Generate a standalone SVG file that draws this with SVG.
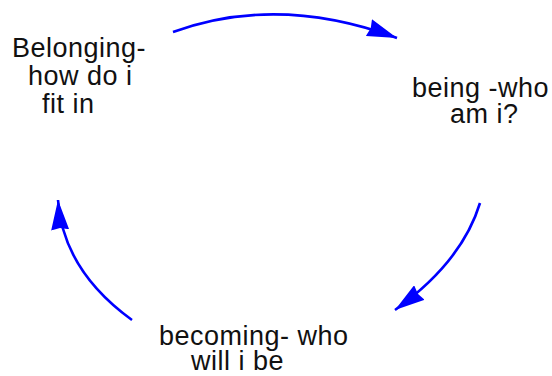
<svg xmlns="http://www.w3.org/2000/svg" width="552" height="376" viewBox="0 0 552 376">
<style>
.t{font-family:"Liberation Sans",Arial,sans-serif;font-size:27px;letter-spacing:0.5px;fill:#111}
.c{fill:none;stroke:#0000ff;stroke-width:2.6}
</style>
<defs>
<marker id="ah" markerUnits="userSpaceOnUse" viewBox="0 0 30 18" markerWidth="30" markerHeight="18" refX="30" refY="9" orient="auto">
<path d="M0,0 L30,9 L0,18 L2,9 z" fill="#0000ff"/>
</marker>
</defs>
<rect width="552" height="376" fill="#fff"/>
<g id="connectors">
<path class="c" d="M173,32 Q278,-6 397,38" marker-end="url(#ah)"/>
<path class="c" d="M480,203 Q462,262 395,310" marker-end="url(#ah)"/>
<path class="c" d="M132,320 Q63,270 58,200" marker-end="url(#ah)"/>
</g>
<g id="belonging">
<text class="t" x="12" y="57">Belonging-</text>
<text class="t" x="28" y="85">how do i</text>
<text class="t" x="42" y="113">fit in</text>
</g>
<g id="being">
<text class="t" x="412" y="97">being -who</text>
<text class="t" x="450" y="123">am i?</text>
</g>
<g id="becoming">
<text class="t" x="159" y="345">becoming- who</text>
<text class="t" x="191" y="370">will i be</text>
</g>
</svg>
